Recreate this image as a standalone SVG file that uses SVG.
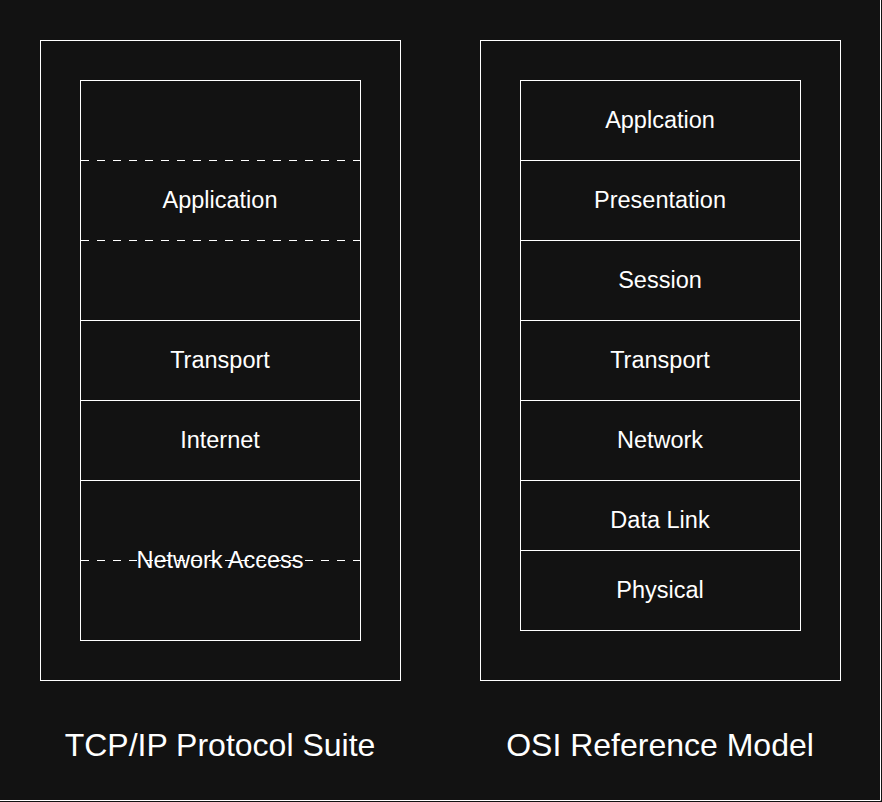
<svg xmlns="http://www.w3.org/2000/svg" width="882" height="802" viewBox="0 0 882 802">
<style>
.box{fill:none;stroke:#ffffff;stroke-width:1}
.cell{fill:#121212;stroke:#ffffff;stroke-width:1}
.dash{stroke:#ffffff;stroke-width:1;stroke-dasharray:8 8;fill:none}
.lbl{font-family:"Liberation Sans",Arial,sans-serif;font-size:23.5px;fill:#ffffff;text-anchor:middle}
.ttl{font-family:"Liberation Sans",Arial,sans-serif;font-size:32px;fill:#ffffff;text-anchor:middle}
</style>
<rect x="0" y="0" width="882" height="802" fill="#121212"/>
<path d="M0 800.5H880.5V0" fill="none" stroke="#ffffff" stroke-width="1"/>
<g id="tcpip">
<rect class="box" x="40.5" y="40.5" width="360" height="640"/>
<rect class="cell" x="80.5" y="80.5" width="280" height="240"/>
<line class="dash" x1="81" y1="160.5" x2="360" y2="160.5"/>
<line class="dash" x1="81" y1="240.5" x2="360" y2="240.5"/>
<text class="lbl" x="220" y="208">Application</text>
<rect class="cell" x="80.5" y="320.5" width="280" height="80"/>
<text class="lbl" x="220" y="368">Transport</text>
<rect class="cell" x="80.5" y="400.5" width="280" height="80"/>
<text class="lbl" x="220" y="448">Internet</text>
<rect class="cell" x="80.5" y="480.5" width="280" height="160"/>
<line class="dash" x1="81" y1="560.5" x2="360" y2="560.5"/>
<text class="lbl" x="220" y="568">Network Access</text>
<text class="ttl" x="220" y="756">TCP/IP Protocol Suite</text>
</g>
<g id="osi">
<rect class="box" x="480.5" y="40.5" width="360" height="640"/>
<rect class="cell" x="520.5" y="80.5" width="280" height="80"/>
<text class="lbl" x="660" y="128">Applcation</text>
<rect class="cell" x="520.5" y="160.5" width="280" height="80"/>
<text class="lbl" x="660" y="208">Presentation</text>
<rect class="cell" x="520.5" y="240.5" width="280" height="80"/>
<text class="lbl" x="660" y="288">Session</text>
<rect class="cell" x="520.5" y="320.5" width="280" height="80"/>
<text class="lbl" x="660" y="368">Transport</text>
<rect class="cell" x="520.5" y="400.5" width="280" height="80"/>
<text class="lbl" x="660" y="448">Network</text>
<rect class="cell" x="520.5" y="480.5" width="280" height="70"/>
<text class="lbl" x="660" y="528">Data Link</text>
<rect class="cell" x="520.5" y="550.5" width="280" height="80"/>
<text class="lbl" x="660" y="598">Physical</text>
<text class="ttl" x="660" y="756">OSI Reference Model</text>
</g>
<g id="connectors"></g>
</svg>
